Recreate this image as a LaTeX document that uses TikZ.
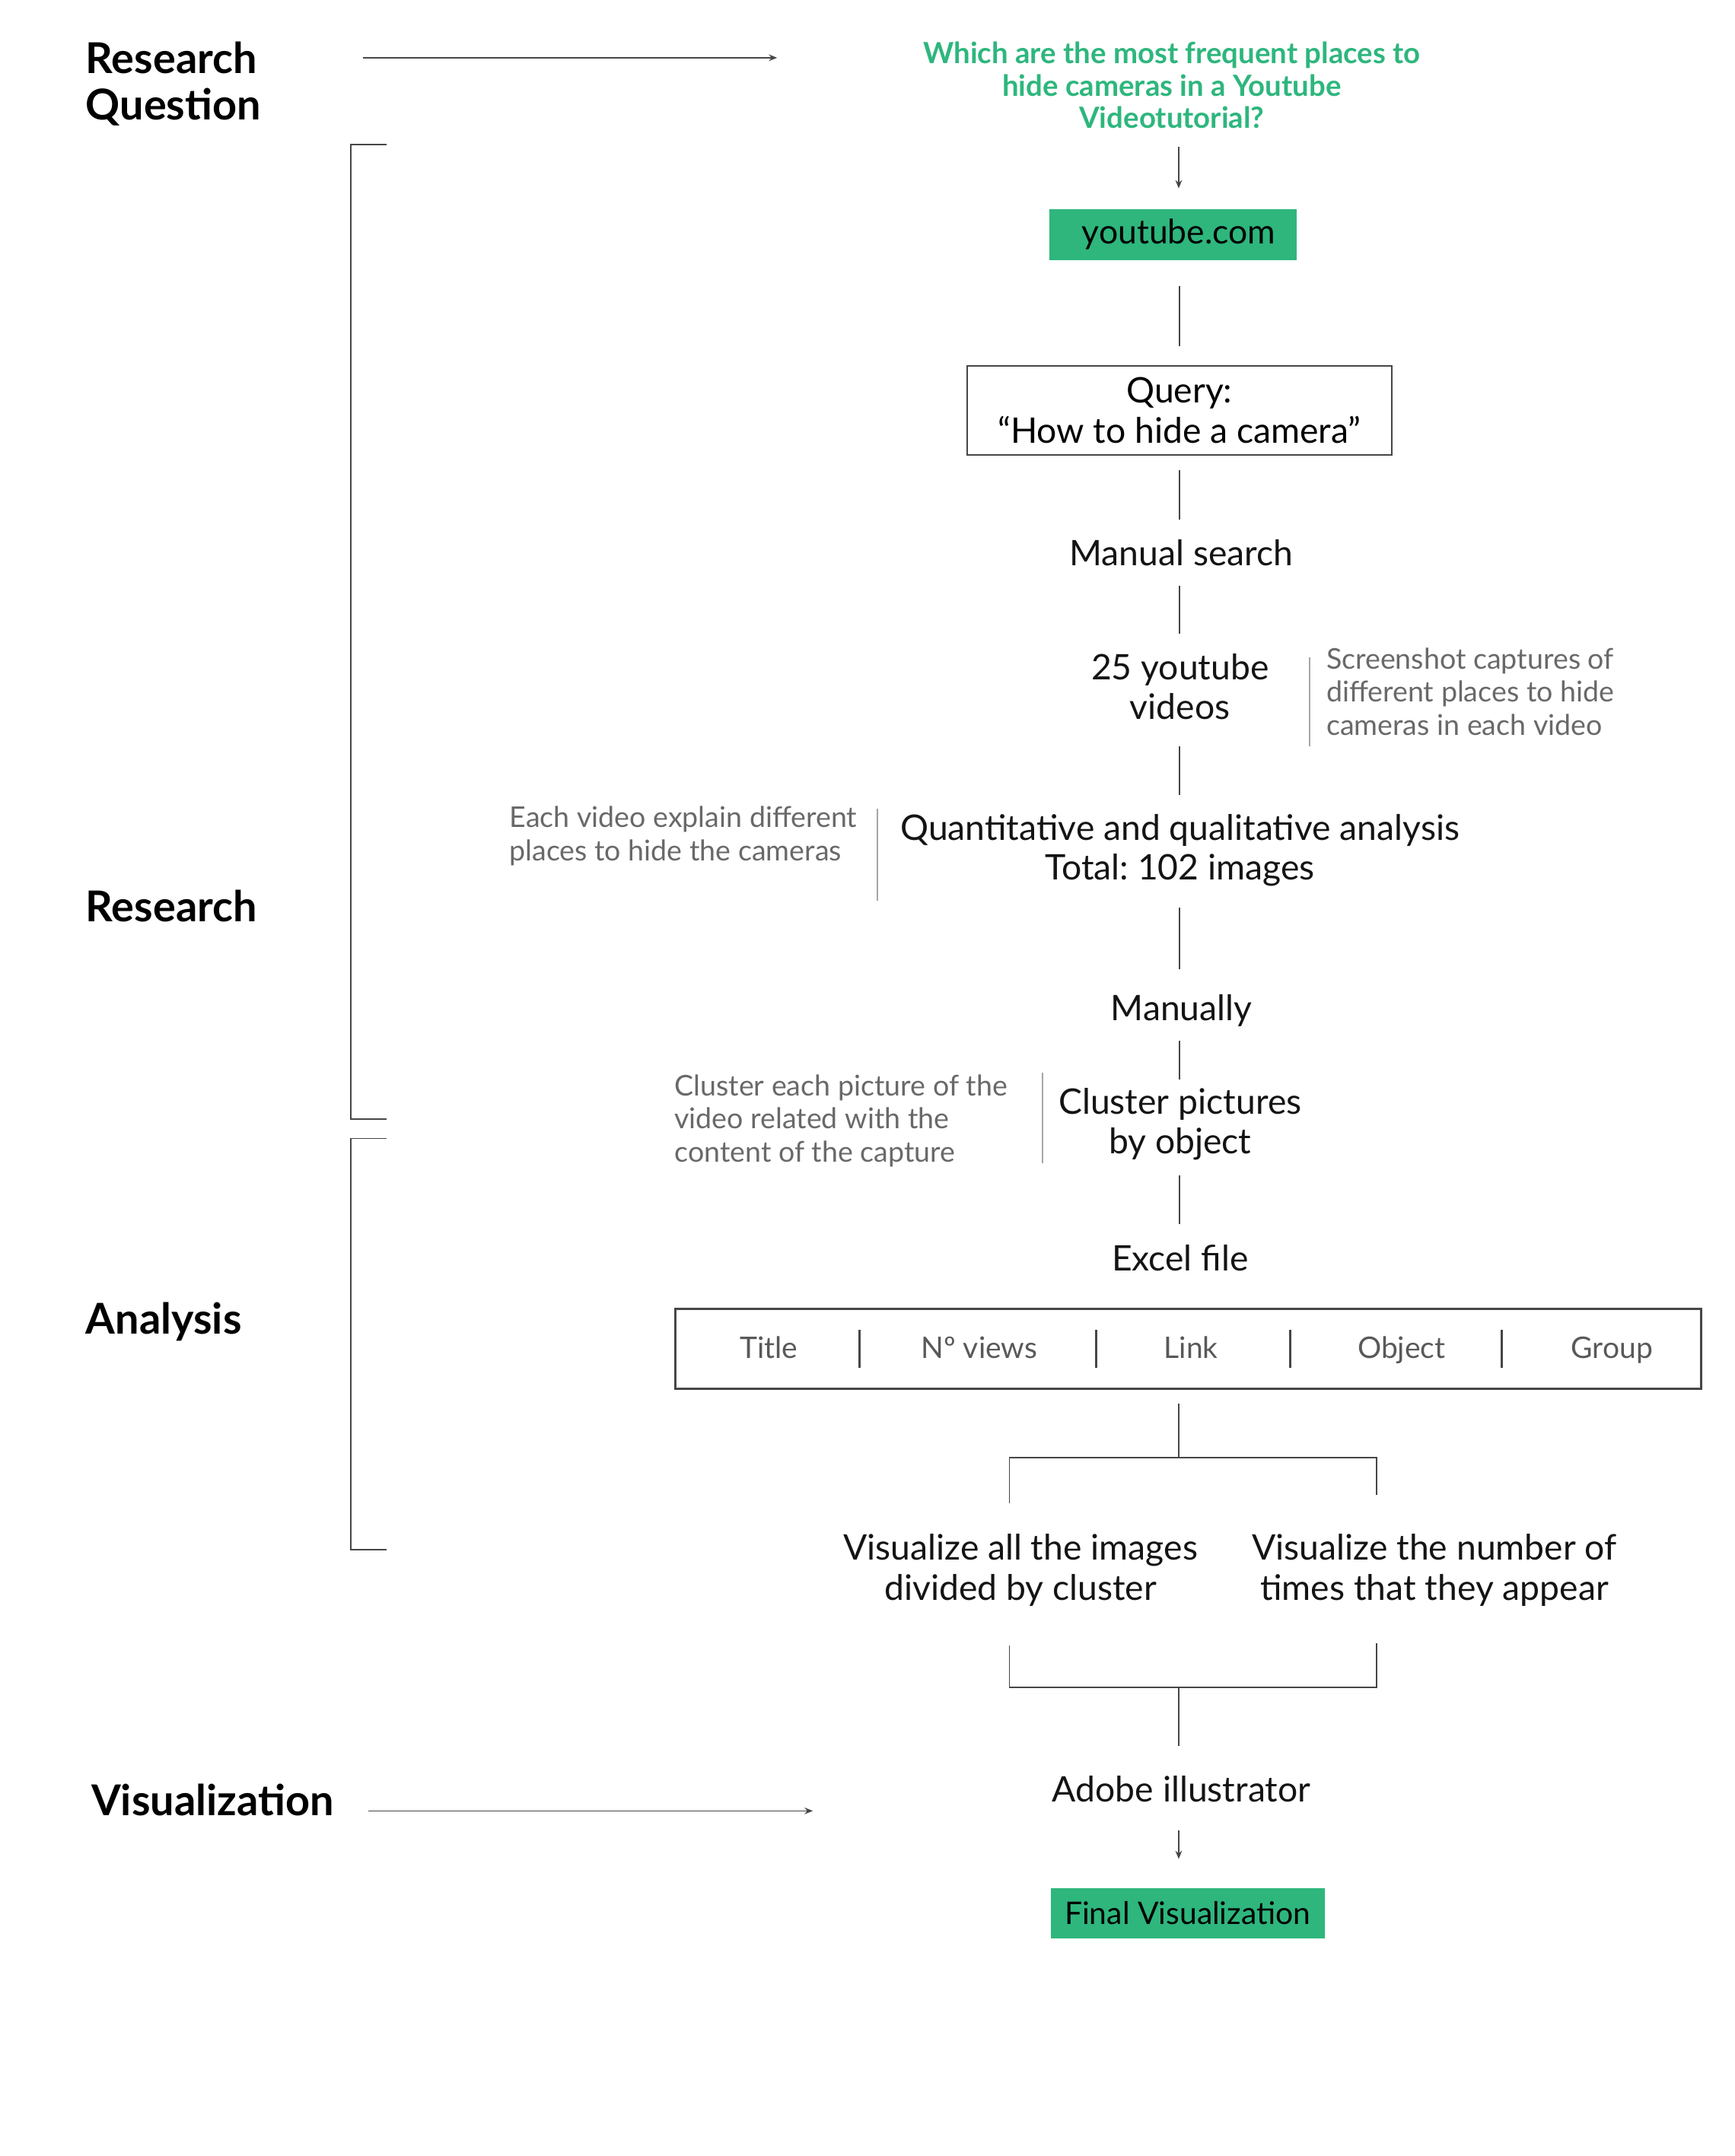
\documentclass[tikz,border=0pt]{standalone}
\usepackage{fontspec}
\setmainfont{Lato}
\usetikzlibrary{arrows.meta}
\definecolor{grn}{RGB}{46,182,125}
\definecolor{lin}{RGB}{70,70,70}
\definecolor{notec}{RGB}{105,105,105}
\frenchspacing
\begin{document}
\begin{tikzpicture}[x=0.5pt,y=-0.5pt,
  main/.style={inner sep=0pt, align=center, font=\fontsize{12.8}{14.5}\selectfont, text=black!92},
  note/.style={inner sep=0pt, align=left, anchor=west, font=\fontsize{10.4}{12}\selectfont, text=notec},
  head/.style={inner sep=0pt, align=left, anchor=west, font=\fontsize{15.45}{17}\selectfont\bfseries, text=black},
  conn/.style={draw=lin, line width=0.45pt},
  arr/.style={conn, -{Stealth[length=3pt,width=2.4pt]}},
  gbox/.style={fill=grn, inner sep=0pt, text=black, font=\fontsize{12.3}{14}\selectfont},
  wbox/.style={draw=lin, line width=0.6pt, inner sep=0pt, align=center, font=\fontsize{12.8}{14.5}\selectfont},
  sepl/.style={draw=black!35, line width=0.5pt},
  cell/.style={inner sep=0pt, anchor=base, font=\fontsize{10.8}{12}\selectfont, text=black!65},
  cellsep/.style={draw=lin, line width=0.7pt}
]
\useasboundingbox (0,0) rectangle (1261,1568);

% headings
\node[head] (hrq) at (62,61) {Research\\Question};
\node[head] (hres) at (62,659) {Research};
\node[head] (hana) at (62,961) {Analysis};
\node[head] (hvis) at (66,1309) {Visualization};

% side arrows
\coordinate (rqa) at (264,42);
\coordinate (rqb) at (565,42);
\draw[arr] (rqa) -- (rqb);
\coordinate (vza) at (268,1317);
\coordinate (vzb) at (591,1317);
\draw[arr] (vza) -- (vzb);

% brackets
\coordinate (b1a) at (281,105);
\coordinate (b1b) at (255,105);
\coordinate (b1c) at (255,814);
\coordinate (b1d) at (281,814);
\draw[conn] (b1a) -- (b1b) -- (b1c) -- (b1d);
\coordinate (b2a) at (281,828);
\coordinate (b2b) at (255,828);
\coordinate (b2c) at (255,1127);
\coordinate (b2d) at (281,1127);
\draw[conn] (b2a) -- (b2b) -- (b2c) -- (b2d);

% main flow
\node[inner sep=0pt, align=center, text=grn, font=\fontsize{10.62}{11.75}\selectfont\bfseries] (q) at (852,62)
  {Which are the most frequent places to\\hide cameras in a Youtube\\Videotutorial?};
\node[gbox, minimum width=90pt, minimum height=18.5pt] (yt) at (853,170.5) {\hspace*{4pt}youtube.com};
\node[wbox, minimum width=154.5pt, minimum height=32.5pt] (query) at (857.5,298.5) {Query:\\“How to hide a camera”};
\node[main] (ms) at (859,402) {Manual search};
\node[main] (vid) at (858,499.5) {25 youtube\\videos};
\node[main] (qa) at (858,618.5) {Quantitative and qualitative analysis\\Total: 102 images};
\node[main] (man) at (859,735) {Manually};
\node[main] (clu) at (858,817.5) {Cluster pictures\\by object};
\node[main] (xl) at (858,915) {Excel file};
\node[draw=lin, line width=0.8pt, minimum width=373pt, minimum height=29pt, inner sep=0pt] (tbl) at (864,981) {};
\node[cell] (c1) at (559,988) {Title};
\node[cell] (c2) at (712,988) {Nº views};
\node[cell] (c3) at (866,988) {Link};
\node[cell] (c4) at (1019,988) {Object};
\node[cell] (c5) at (1172,988) {Group};
\foreach \xx in {625,797,938,1092} \draw[cellsep] (\xx,967) -- (\xx,995);
\node[main] (v1) at (742,1142) {Visualize all the images\\divided by cluster};
\node[main] (v2) at (1043,1142) {Visualize the number of\\times that they appear};
\node[main] (ai) at (859,1301) {Adobe illustrator};
\node[gbox, minimum width=99.5pt, minimum height=18.5pt, font=\fontsize{11.3}{14}\selectfont] (fin) at (863.5,1391.5) {Final Visualization};

% side notes
\node[note] (n1) at (964,503) {Screenshot captures of\\different places to hide\\cameras in each video};
\draw[sepl] (952,478) -- (952,543);
\node[note] (n2) at (370,608) {Each video explain different\\places to hide the cameras};
\draw[sepl] (638,588) -- (638,655);
\node[note] (n3) at (490,815) {Cluster each picture of the\\video related with the\\content of the capture};
\draw[sepl] (758,780) -- (758,846);

% connectors
\draw[arr, shorten <=22.5pt, shorten >=16.75pt] (q.center -| yt.center) ++(4,0) coordinate (qx) -- (qx |- yt.center);
\draw[conn, shorten <=18.75pt, shorten >=23.25pt] (query.center |- yt.center) -- (query.center);
\draw[conn, shorten <=21.75pt, shorten >=12pt] (query.center) -- (query.center |- ms.center);
\draw[conn, shorten <=12pt, shorten >=19.25pt] (query.center |- ms.center) -- (query.center |- vid.center);
\draw[conn, shorten <=21.75pt, shorten >=20.25pt] (query.center |- vid.center) -- (query.center |- qa.center);
\draw[conn, shorten <=20.75pt, shorten >=15pt] (query.center |- qa.center) -- (query.center |- man.center);
\draw[conn, shorten <=11pt, shorten >=16.25pt] (query.center |- man.center) -- (query.center |- clu.center);
\draw[conn, shorten <=18.75pt, shorten >=12.5pt] (query.center |- clu.center) -- (query.center |- xl.center);

\coordinate (split) at (857,1060);
\coordinate (sl) at (734,1060);
\coordinate (sr) at (1001,1060);
\coordinate (slb) at (734,1093);
\coordinate (srb) at (1001,1087);
\draw[conn, shorten <=5pt] (split |- tbl.south) -- (split);
\draw[conn] (slb) -- (sl) -- (sr) -- (srb);

\coordinate (join) at (857,1227);
\coordinate (jl) at (734,1227);
\coordinate (jr) at (1001,1227);
\coordinate (jlt) at (734,1197);
\coordinate (jrt) at (1001,1195);
\draw[conn] (jlt) -- (jl) -- (jr) -- (jrt);
\draw[conn, shorten >=15.5pt] (join) -- (join |- ai.center);
\draw[arr, shorten <=15pt, shorten >=19.75pt] (join |- ai.center) -- (join |- fin.center);
\end{tikzpicture}
\end{document}
